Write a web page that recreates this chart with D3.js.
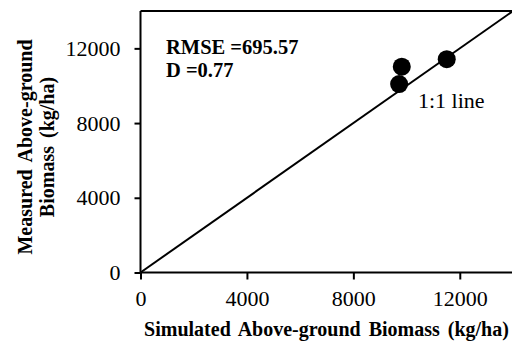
<!DOCTYPE html>
<html><head><meta charset="utf-8">
<script src="https://cdn.jsdelivr.net/npm/d3@7"></script>
<style>body{margin:0;background:#fff}svg{display:block}svg text{font-family:"Liberation Serif","Times New Roman",serif !important;fill:#000}</style>
</head><body>
<script>
const simulated = [9820, 9720, 11510];
const measured = [11020, 10090, 11420];
const xTicks = [0, 4000, 8000, 12000];
const yTicks = [0, 4000, 8000, 12000];
const oneToOne = [0, 14000];
const stats = ["RMSE =695.57", "D =0.77"];

const W = 512, H = 342;
const svg = d3.select("body").append("svg").attr("width", W).attr("height", H);
const x = d3.scaleLinear().domain([0, 14000]).range([140.5, 513]);
const y = d3.scaleLinear().domain([0, 14000]).range([272.5, 11]);

svg.append("path").attr("d", `M${x(0)},${y(14000)}H${x(14000)}V${y(0)}`)
  .attr("fill", "none").attr("stroke", "#000").attr("stroke-width", 2);

const xa = svg.append("g").attr("transform", `translate(0,${y(0)})`)
  .call(d3.axisBottom(x).tickValues(xTicks).tickSize(7).tickPadding(11).tickFormat(d3.format("d")));
const ya = svg.append("g").attr("transform", `translate(${x(0)},0)`)
  .call(d3.axisLeft(y).tickValues(yTicks).tickSize(6).tickPadding(14).tickFormat(d3.format("d")));
[xa, ya].forEach(a => {
  a.attr("font-family", "Liberation Serif").attr("font-size", 22);
  a.select(".domain").attr("stroke-width", 2);
  a.selectAll(".tick line").attr("stroke-width", 2);
});
xa.select(".domain").attr("d", `M${x(0)},0H${x(14000)}`);
ya.select(".domain").attr("d", `M0,${y(0)}V${y(14000)}`);

svg.append("line").attr("x1", x(oneToOne[0])).attr("y1", y(oneToOne[0]))
  .attr("x2", x(oneToOne[1])).attr("y2", y(oneToOne[1]))
  .attr("stroke", "#000").attr("stroke-width", 2);

svg.selectAll("circle.pt").data(simulated).enter().append("circle")
  .attr("cx", d => x(d)).attr("cy", (d, i) => y(measured[i])).attr("r", 9).attr("fill", "#000");

svg.append("text").attr("x", 418).attr("y", 108).attr("font-size", 22).text("1:1 line");

svg.selectAll("text.stat").data(stats).enter().append("text")
  .attr("x", 166).attr("y", (d, i) => 54 + i * 23)
  .attr("font-size", 20.5).attr("font-weight", "bold").text(d => d);

svg.append("text").attr("x", 326.5).attr("y", 336).attr("text-anchor", "middle")
  .attr("font-size", 20).attr("font-weight", "bold").attr("word-spacing", 3)
  .text("Simulated Above-ground Biomass (kg/ha)");

const yl = svg.append("text").attr("transform", "translate(0,147) rotate(-90)")
  .attr("text-anchor", "middle").attr("font-size", 20).attr("font-weight", "bold").attr("word-spacing", 3);
yl.append("tspan").attr("x", 0).attr("y", 32).text("Measured Above-ground");
yl.append("tspan").attr("x", 0).attr("y", 54).text("Biomass (kg/ha)");
</script>
</body></html>
